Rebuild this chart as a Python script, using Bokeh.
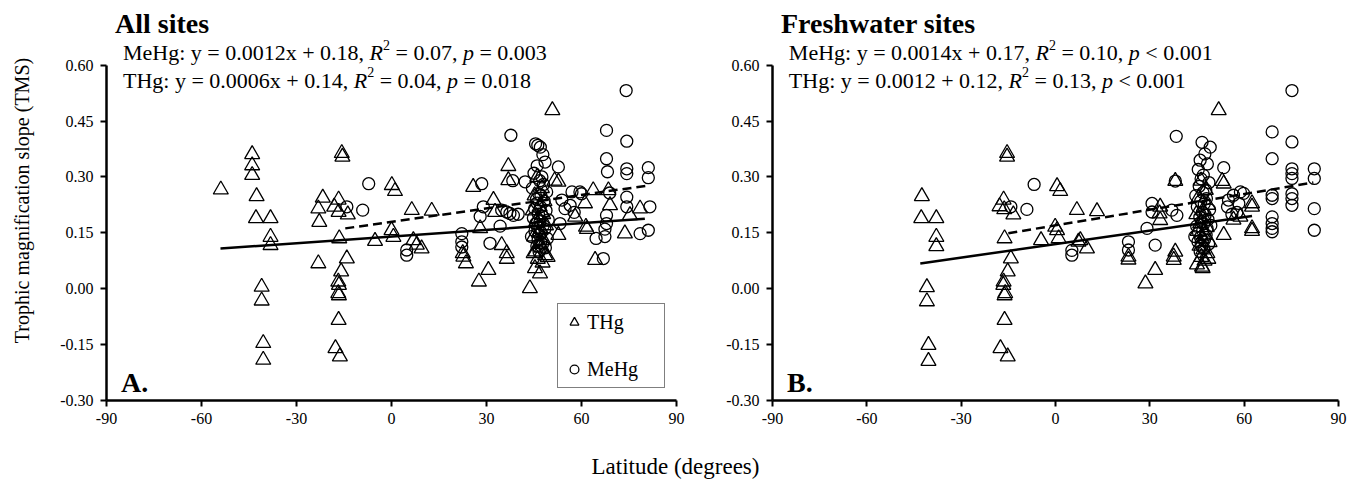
from bokeh.plotting import figure
from bokeh.models import Range1d, FixedTicker, NumeralTickFormatter, Label, Legend, LegendItem
from bokeh.layouts import row, column
from bokeh.embed import file_html
from bokeh.resources import INLINE

# ---------------- data ----------------
x_ticks = [-90, -60, -30, 0, 30, 60, 90]
y_ticks = [-0.30, -0.15, 0.00, 0.15, 0.30, 0.45, 0.60]

all_thg_lat = [-53.9, -44.0, -44.0, -44.0, -42.6, -42.8, -38.2, -38.2, -38.2, -41.0, -41.0, -40.5, -40.5,
               -21.7, -23.1, -22.8, -23.1, -16.7, -18.1, -16.7, -13.8, -15.7, -15.5, -16.5, -14.1, -15.9,
               -16.8, -16.6, -16.8, -16.6, -16.7, -17.7, -16.3, -5.2, 0.1, 1.1, 0.0, 0.6, 6.4, 12.7, 6.9,
               8.0, 9.5, 22.7, 23.5, 22.5, 25.8, 27.6, 28.0, 30.6, 32.2, 32.7, 34.8, 36.4, 36.4, 36.9, 36.9,
               43.7, 45.3, 46.9, 50.8, 51.5, 52.7, 52.7, 58.0, 61.1, 61.4, 61.7, 63.7, 64.3, 68.5, 69.0,
               73.7, 75.3, 78.5,
               46.0, 47.5, 45.2, 48.3, 46.8, 44.6, 47.9, 46.3, 45.7, 48.8, 47.1, 46.5, 45.0, 48.0, 46.9,
               47.4, 45.5, 48.5, 46.2, 47.7, 44.9, 49.3]
all_thg_tms = [0.266, 0.361, 0.331, 0.305, 0.248, 0.189, 0.189, 0.139, 0.117, 0.005, -0.032, -0.146, -0.191,
               0.244, 0.215, 0.179, 0.068, 0.239, 0.220, 0.206, 0.199, 0.364, 0.354, 0.135, 0.081, 0.046,
               0.019, 0.010, -0.012, -0.018, -0.084, -0.160, -0.182, 0.128, 0.278, 0.262, 0.157, 0.139, 0.211,
               0.209, 0.130, 0.118, 0.108, 0.086, 0.068, 0.095, 0.273, 0.019, 0.162, 0.050, 0.238, 0.206,
               0.117, 0.095, 0.080, 0.329, 0.291, 0.001, 0.055, 0.041, 0.479, 0.290, 0.287, 0.144, 0.193,
               0.229, 0.166, 0.160, 0.264, 0.077, 0.264, 0.224, 0.148, 0.197, 0.215,
               0.300, 0.270, 0.250, 0.235, 0.220, 0.210, 0.200, 0.190, 0.180, 0.170, 0.160, 0.150, 0.140,
               0.130, 0.120, 0.110, 0.100, 0.090, 0.080, 0.070, 0.095, 0.085]

all_mehg_lat = [-14.1, -9.1, -7.2, 4.8, 4.8, 22.2, 22.2, 22.2, 28.0, 28.5, 29.0, 31.1, 34.3, 34.8, 36.4,
                37.4, 38.5, 40.0, 37.7, 38.3, 42.2, 52.7, 53.2, 53.8, 54.8, 56.4, 57.0, 59.5, 60.0, 57.7,
                64.6, 66.9, 67.4, 67.4, 67.9, 67.9, 68.2, 68.9, 67.9, 67.9, 74.1, 74.3, 74.3, 74.3, 74.3,
                74.3, 78.5, 81.1, 81.1, 81.6, 81.1,
                45.5, 46.2, 47.0, 47.8, 48.5, 46.0, 45.0, 47.5, 46.8, 48.0, 44.5, 49.0, 46.5, 47.2, 45.8,
                48.2, 46.0, 47.0, 45.2, 48.8, 46.4, 47.6, 44.8, 49.5, 46.9, 45.6, 47.9, 46.1, 48.4, 45.3,
                47.3, 46.7, 44.2, 49.2, 46.3, 47.7, 45.9, 48.6, 46.6, 47.1]
all_mehg_tms = [0.220, 0.211, 0.282, 0.104, 0.090, 0.148, 0.126, 0.112, 0.194, 0.282, 0.220, 0.122, 0.168,
                0.211, 0.206, 0.202, 0.197, 0.200, 0.412, 0.290, 0.287, 0.327, 0.175, 0.238, 0.215, 0.224,
                0.260, 0.260, 0.255, 0.205, 0.135, 0.081, 0.160, 0.140, 0.425, 0.349, 0.314, 0.257, 0.197,
                0.175, 0.532, 0.396, 0.322, 0.309, 0.246, 0.220, 0.148, 0.325, 0.298, 0.220, 0.157,
                0.389, 0.385, 0.380, 0.360, 0.340, 0.330, 0.310, 0.300, 0.290, 0.280, 0.270, 0.260, 0.255,
                0.250, 0.240, 0.235, 0.230, 0.220, 0.215, 0.210, 0.200, 0.195, 0.190, 0.185, 0.180, 0.175,
                0.170, 0.165, 0.160, 0.155, 0.150, 0.145, 0.140, 0.135, 0.130, 0.120, 0.115, 0.110, 0.100,
                0.125]

fw_thg_lat = [-42.5, -42.7, -37.9, -37.9, -37.9, -40.9, -40.9, -40.4, -40.4, -15.4, -15.4, -16.5, -17.8,
              -16.3, -13.4, -16.2, -14.2, -15.2, -16.5, -16.6, -16.0, -16.2, -16.2, -17.5, -15.2, -4.6, 0.5,
              1.5, -0.1, 0.5, 1.0, 6.8, 13.2, 7.3, 7.9, 10.0, 23.2, 23.2, 28.6, 31.7, 33.3, 33.1, 33.3, 37.6,
              37.6, 38.1, 38.1, 46.8, 51.9, 53.0, 53.5, 53.5, 56.6, 58.8, 62.5, 62.5, 62.5, 62.5,
              46.3, 47.8, 45.5, 48.5, 46.9, 44.8, 47.2, 46.0, 48.1, 45.2, 47.6, 46.6, 49.0, 45.8, 47.0,
              48.3, 46.4, 47.4, 45.0, 46.6, 48.6]
fw_thg_tms = [0.248, 0.189, 0.189, 0.139, 0.114, 0.004, -0.034, -0.151, -0.194, 0.364, 0.354, 0.239, 0.221,
              0.213, 0.199, 0.135, 0.081, 0.046, 0.019, 0.010, -0.012, -0.018, -0.084, -0.160, -0.182, 0.130,
              0.275, 0.262, 0.166, 0.157, 0.135, 0.211, 0.208, 0.126, 0.130, 0.108, 0.086, 0.078, 0.014,
              0.050, 0.220, 0.202, 0.184, 0.086, 0.077, 0.289, 0.099, 0.055, 0.479, 0.289, 0.282, 0.144,
              0.185, 0.193, 0.229, 0.220, 0.162, 0.155,
              0.290, 0.265, 0.245, 0.225, 0.210, 0.200, 0.190, 0.175, 0.165, 0.155, 0.145, 0.135, 0.125,
              0.115, 0.105, 0.095, 0.085, 0.075, 0.065, 0.059, 0.080]

fw_mehg_lat = [-14.2, -9.1, -6.8, 5.2, 5.2, 23.2, 23.2, 29.1, 30.7, 30.7, 31.7, 37.0, 38.6, 38.1, 38.4,
               53.5, 55.0, 56.6, 58.8, 59.8, 54.7, 56.1, 57.7, 58.3,
               68.9, 68.9, 68.9, 68.9, 68.9, 68.9, 68.9, 68.9,
               75.2, 75.2, 75.2, 75.2, 75.2, 75.2, 75.2, 75.2,
               82.3, 82.3, 82.3, 82.3,
               46.6, 49.2, 47.5, 46.0, 48.3, 45.4, 47.0, 46.3, 48.8, 45.7, 47.8, 46.9, 44.6, 48.0, 46.2,
               47.3, 45.1, 49.0, 46.7, 47.6, 45.9, 48.5, 46.4, 47.1, 44.9, 48.2, 46.8, 45.5, 47.9, 46.1,
               47.4, 45.3, 48.7, 46.5, 47.2, 44.3, 49.4, 46.0]
fw_mehg_tms = [0.220, 0.213, 0.280, 0.103, 0.090, 0.126, 0.104, 0.162, 0.229, 0.206, 0.117, 0.211, 0.197,
               0.289, 0.409,
               0.325, 0.238, 0.251, 0.260, 0.256, 0.220, 0.200, 0.205, 0.229,
               0.421, 0.349, 0.251, 0.242, 0.193, 0.175, 0.162, 0.153,
               0.532, 0.394, 0.322, 0.309, 0.296, 0.255, 0.242, 0.224,
               0.322, 0.296, 0.215, 0.157,
               0.393, 0.380, 0.362, 0.345, 0.335, 0.320, 0.305, 0.295, 0.285, 0.275, 0.265, 0.258, 0.250,
               0.242, 0.235, 0.228, 0.220, 0.212, 0.205, 0.198, 0.192, 0.186, 0.180, 0.174, 0.168, 0.162,
               0.156, 0.150, 0.144, 0.138, 0.132, 0.126, 0.120, 0.114, 0.108, 0.140, 0.170, 0.100]

# regression line end points
all_thg_fit_lat = [-54.0, 80.0]
all_thg_fit_tms = [0.108, 0.188]
all_mehg_fit_lat = [-14.6, 81.0]
all_mehg_fit_tms = [0.162, 0.277]
fw_thg_fit_lat = [-43.0, 62.5]
fw_thg_fit_tms = [0.068, 0.195]
fw_mehg_fit_lat = [-15.0, 82.0]
fw_mehg_fit_tms = [0.149, 0.285]

panel_titles = ["All sites", "Freshwater sites"]
panel_letters = ["A.", "B."]
eq_all = [("MeHg: y = 0.0012x + 0.18, ", " = 0.07, ", " = 0.003"),
          ("THg: y = 0.0006x + 0.14, ", " = 0.04, ", " = 0.018")]
eq_fw = [("MeHg: y = 0.0014x + 0.17, ", " = 0.10, ", " < 0.001"),
         ("THg: y = 0.0012 + 0.12, ", " = 0.13, ", " < 0.001")]

# ---------------- styling helpers ----------------
SERIF = "Liberation Serif"
ADV = {' ': 250, ':': 278, ',': 250, '.': 250, '=': 564, '+': 564, '<': 564, 'M': 889, 'e': 444,
       'H': 722, 'g': 500, 'y': 500, 'x': 500, 'T': 611, 'R': 611, 'p': 500}
Y_TOP = 0.7737   # frame runs up to the top edge so that the header texts are not clipped


def adv(s, px):
    return sum(ADV.get(ch, 500) for ch in s) * px / 1000.0


def add_equation(p, x, y, parts, px=22):
    pre, mid, post = parts
    pieces = [(pre, "normal", px, 0), ("R", "italic", px, 0), ("2", "normal", round(px * 0.65), 8),
              (mid, "normal", px, 0), ("p", "italic", px, 0), (post, "normal", px, 0)]
    off = 0.0
    for text, style, size, rise in pieces:
        stripped = text.lstrip(" ")
        off += adv(text[:len(text) - len(stripped)], size)
        if stripped.strip():
            p.add_layout(Label(x=x, y=y, x_offset=off, y_offset=rise, text=stripped.rstrip(" "),
                               text_font=SERIF, text_font_size=f"{size}px", text_font_style=style,
                               text_baseline="alphabetic", text_align="left", text_color="black"))
        off += adv(stripped, size)


def make_panel(width, left, right, thg_lat, thg_tms, mehg_lat, mehg_tms,
               tf_lat, tf_tms, mf_lat, mf_tms, title, letter, eqs, ylabel=None):
    p = figure(width=width, height=445, x_range=Range1d(-90, 90), y_range=Range1d(-0.30, Y_TOP),
               toolbar_location=None, output_backend="svg",
               min_border_left=left, min_border_right=right, min_border_top=0, min_border_bottom=45)
    p.grid.visible = False
    p.outline_line_color = None
    p.background_fill_color = "white"
    p.border_fill_color = "white"
    p.xaxis.ticker = FixedTicker(ticks=x_ticks)
    p.yaxis.ticker = FixedTicker(ticks=y_ticks)
    p.xaxis.formatter = NumeralTickFormatter(format="0")
    p.yaxis.formatter = NumeralTickFormatter(format="0.00")
    p.yaxis.bounds = (y_ticks[0], y_ticks[-1])
    for ax in p.axis:
        ax.axis_line_width = 2.5
        ax.axis_line_color = "black"
        ax.major_tick_line_width = 2
        ax.major_tick_line_color = "black"
        ax.major_tick_out = 6
        ax.major_tick_in = 0
        ax.minor_tick_line_color = None
        ax.major_label_text_font = SERIF
        ax.major_label_text_font_size = "16px"
        ax.major_label_text_color = "black"
    p.xaxis.major_label_standoff = 6
    p.yaxis.major_label_standoff = 7
    if ylabel:
        p.yaxis.axis_label = ylabel
        p.yaxis.axis_label_text_font = SERIF
        p.yaxis.axis_label_text_font_size = "20px"
        p.yaxis.axis_label_text_font_style = "normal"
        p.yaxis.axis_label_text_color = "black"
        p.yaxis.axis_label_standoff = 24

    p.line(tf_lat, tf_tms, line_color="black", line_width=2.5)
    p.line(mf_lat, mf_tms, line_color="black", line_width=2.5, line_dash="9 5")
    r_t = p.scatter(thg_lat, thg_tms, marker="triangle", size=15, fill_color=None,
                    line_color="black", line_width=1.3)
    r_m = p.scatter(mehg_lat, mehg_tms, marker="circle", size=12, fill_color=None,
                    line_color="black", line_width=1.3)

    p.add_layout(Label(x=-87.3, y=0.711, text=title, text_font=SERIF, text_font_size="28px",
                       text_font_style="bold", text_baseline="alphabetic", text_color="black"))
    add_equation(p, -84.8, 0.634, eqs[0])
    add_equation(p, -84.8, 0.559, eqs[1])
    p.add_layout(Label(x=-85.4, y=-0.251, text=letter, text_font=SERIF, text_font_size="28px",
                       text_font_style="bold", text_baseline="alphabetic", text_color="black"))
    return p, r_t, r_m


p1, t1, m1 = make_panel(706, 106, 30, all_thg_lat, all_thg_tms, all_mehg_lat, all_mehg_tms,
                        all_thg_fit_lat, all_thg_fit_tms, all_mehg_fit_lat, all_mehg_fit_tms,
                        panel_titles[0], panel_letters[0], eq_all,
                        ylabel="Trophic magnification slope (TMS)")
p2, t2, m2 = make_panel(644, 66, 12, fw_thg_lat, fw_thg_tms, fw_mehg_lat, fw_mehg_tms,
                        fw_thg_fit_lat, fw_thg_fit_tms, fw_mehg_fit_lat, fw_mehg_fit_tms,
                        panel_titles[1], panel_letters[1], eq_fw)

legend = Legend(items=[LegendItem(label="THg", renderers=[t1]), LegendItem(label="MeHg", renderers=[m1])],
                location=(451, 12), border_line_color="black", border_line_width=1.5,
                background_fill_color="white", background_fill_alpha=1.0, padding=5, spacing=21,
                glyph_width=22, glyph_height=26, label_standoff=2, label_width=72, label_height=20,
                label_text_font=SERIF, label_text_font_size="20px", label_text_color="black", margin=0)
p1.add_layout(legend)

p3 = figure(width=1350, height=34, x_range=Range1d(0, 1), y_range=Range1d(0, 1),
            toolbar_location=None, output_backend="svg", min_border=0)
p3.axis.visible = False
p3.grid.visible = False
p3.outline_line_color = None
p3.add_layout(Label(x=0.5, y=0.38, text="Latitude (degrees)", text_font=SERIF, text_font_size="23px",
                    text_align="center", text_baseline="middle", text_color="black"))

layout = column(row(p1, p2), p3)
open("out.html", "w").write(file_html(layout, INLINE))
